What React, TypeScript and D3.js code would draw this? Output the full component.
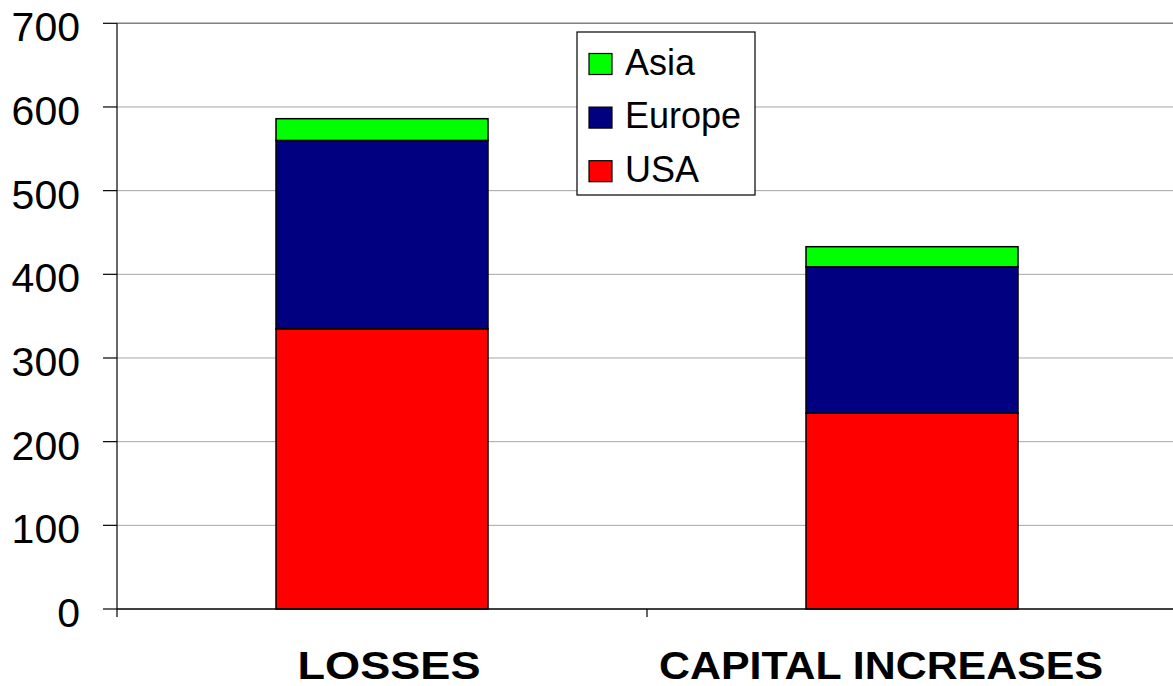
import React from "react";
import * as d3 from "d3";

const categories = ["LOSSES", "CAPITAL INCREASES"];
const seriesNames = ["USA", "Europe", "Asia"];
const usaValues = [335, 234];
const europeValues = [225, 175];
const asiaValues = [26, 24];
const yTicks = [0, 100, 200, 300, 400, 500, 600, 700];
const seriesColors = ["#ff0000", "#000080", "#00ff00"];

const W = 1173;
const H = 686;
const margin = { left: 117, right: -4, top: 23.3, bottom: 77 };

// category label layout: horizontal nudge from band centre and drawn width
const labelNudge = [7, -31];
const labelWidth = [183, 444];

export default function App() {
  const x = d3
    .scaleBand<string>()
    .domain(categories)
    .range([margin.left, W - margin.right])
    .paddingInner(0.6)
    .paddingOuter(0.3);
  const bandStep = x.step();
  const y = d3.scaleLinear().domain([0, 700]).range([H - margin.bottom, margin.top]);

  const rows = categories.map((c, i) => ({
    category: c,
    USA: usaValues[i],
    Europe: europeValues[i],
    Asia: asiaValues[i],
  }));
  const stacked = d3.stack<any>().keys(seriesNames)(rows);

  const font = "Arial, 'Liberation Sans', sans-serif";
  const legendItems = [...seriesNames.map((n, i) => ({ name: n, color: seriesColors[i] }))].reverse();

  return (
    <svg
      width={W}
      height={H}
      style={{ position: "absolute", left: 0, top: 0, background: "#fff" }}
      fontFamily={font}
    >
      {/* horizontal gridlines */}
      {yTicks
        .filter((t) => t > 0)
        .map((t) => (
          <line
            key={t}
            x1={margin.left}
            x2={W}
            y1={y(t)}
            y2={y(t)}
            stroke={t === 700 ? "#808080" : "#a6a6a6"}
            strokeWidth={t === 700 ? 1.5 : 1}
          />
        ))}

      {/* stacked bars */}
      {stacked.map((layer, li) =>
        layer.map((d, ci) => (
          <rect
            key={`${li}-${ci}`}
            x={x(categories[ci])!}
            width={x.bandwidth()}
            y={y(d[1])}
            height={y(d[0]) - y(d[1])}
            fill={seriesColors[li]}
            stroke="#000"
            strokeWidth={1.5}
          />
        ))
      )}

      {/* axes */}
      <line x1={margin.left} x2={margin.left} y1={y(700)} y2={y(0) + 8} stroke="#000" strokeWidth={1.2} />
      <line x1={margin.left} x2={W} y1={y(0)} y2={y(0)} stroke="#000" strokeWidth={1.5} />
      {categories.map((c, i) => {
        const xt = margin.left + bandStep * (i + 1);
        return <line key={c} x1={xt} x2={xt} y1={y(0)} y2={y(0) + 8} stroke="#000" strokeWidth={1.2} />;
      })}
      {yTicks.map((t) => (
        <g key={t}>
          <line x1={margin.left - 14} x2={margin.left} y1={y(t)} y2={y(t)} stroke="#000" strokeWidth={1.2} />
          <text x={80} y={y(t) + 18} textAnchor="end" fontSize={41} fill="#000">
            {t}
          </text>
        </g>
      ))}

      {/* category labels */}
      {categories.map((c, i) => (
        <text
          key={c}
          x={x(c)! + x.bandwidth() / 2 + labelNudge[i]}
          y={y(0) + 70}
          textAnchor="middle"
          fontSize={39}
          fontWeight="bold"
          fill="#000"
          textLength={labelWidth[i]}
          lengthAdjust="spacingAndGlyphs"
        >
          {c}
        </text>
      ))}

      {/* legend */}
      <g>
        <rect x={577} y={32} width={178} height={163} fill="#fff" stroke="#000" strokeWidth={1.2} />
        {legendItems.map((it, i) => {
          const base = 74.5 + i * 53.6;
          return (
            <g key={it.name}>
              <rect x={589} y={base - 21} width={23} height={21} fill={it.color} stroke="#000" strokeWidth={1.2} />
              <text x={625} y={base} fontSize={36} fill="#000">
                {it.name}
              </text>
            </g>
          );
        })}
      </g>
    </svg>
  );
}
